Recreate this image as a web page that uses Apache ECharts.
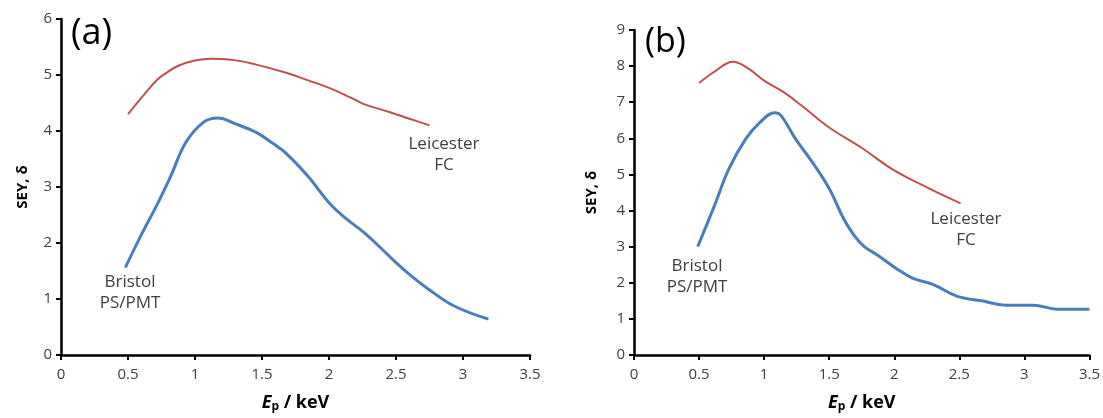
<!DOCTYPE html>
<html><head><meta charset="utf-8">
<script src="https://cdn.jsdelivr.net/npm/echarts@6/dist/echarts.min.js"></script>
<style>html,body{margin:0;padding:0;background:#fff}#c{width:1103px;height:418px}</style>
</head><body><div id="c"></div>
<script>
// Panel (a)
const aLeicesterX = [0.50,0.62,0.72,0.80,0.88,1.00,1.12,1.28,1.45,1.68,1.85,2.00,2.15,2.26,2.45,2.60,2.75];
const aLeicesterY = [4.30,4.65,4.92,5.06,5.17,5.26,5.29,5.27,5.19,5.04,4.90,4.77,4.61,4.48,4.34,4.22,4.10];
const aBristolX = [0.48,0.60,0.72,0.82,0.93,1.06,1.17,1.30,1.46,1.58,1.68,1.84,2.00,2.13,2.26,2.40,2.50,2.62,2.74,2.93,3.19];
const aBristolY = [1.56,2.15,2.70,3.20,3.79,4.15,4.23,4.13,3.97,3.78,3.60,3.20,2.72,2.43,2.19,1.88,1.65,1.40,1.18,0.88,0.64];
// Panel (b)
const bLeicesterX = [0.50,0.62,0.76,0.88,1.00,1.15,1.29,1.50,1.74,2.00,2.27,2.51];
const bLeicesterY = [7.53,7.85,8.12,7.93,7.60,7.28,6.90,6.30,5.76,5.11,4.61,4.20];
const bBristolX = [0.49,0.62,0.73,0.86,0.97,1.08,1.13,1.24,1.37,1.50,1.61,1.69,1.77,1.87,2.01,2.14,2.30,2.48,2.67,2.86,3.07,3.25,3.50];
const bBristolY = [3.00,4.15,5.16,5.99,6.45,6.71,6.63,5.99,5.34,4.61,3.78,3.32,3.00,2.77,2.41,2.13,1.95,1.63,1.50,1.38,1.38,1.27,1.27];
const xTicks = [0,0.5,1,1.5,2,2.5,3,3.5];

const zip = (xs, ys) => xs.map((x, i) => [x, ys[i]]);
const FONT = 'Open Sans';
const lblColor = '#404040';

function xAxis(gi, gap) {
  return {
    type: 'value', gridIndex: gi, min: xTicks[0], max: xTicks[xTicks.length - 1], interval: 0.5,
    name: '{e|E}{p|p}{n| / keV}', nameLocation: 'middle', nameGap: gap,
    nameTextStyle: { rich: {
      e: { fontFamily: FONT, fontSize: 18, fontWeight: 'bold', fontStyle: 'italic', color: '#000' },
      p: { fontFamily: FONT, fontSize: 12, fontWeight: 'bold', color: '#000', verticalAlign: 'bottom', padding: [9,0,0,0] },
      n: { fontFamily: FONT, fontSize: 18, fontWeight: 'bold', color: '#000' }
    }},
    axisLine: { show: true, onZero: false, lineStyle: { color: '#000', width: 2.5 } },
    axisTick: { show: true, length: 5, lineStyle: { color: '#000', width: 2 } },
    axisLabel: { fontFamily: FONT, fontSize: 15, color: lblColor, margin: 12, formatter: v => String(v) },
    splitLine: { show: false }
  };
}
function yAxis(gi, max, gap) {
  return {
    type: 'value', gridIndex: gi, min: 0, max: max, interval: 1,
    name: 'SEY, δ', nameLocation: 'middle', nameGap: gap,
    nameTextStyle: { fontFamily: FONT, fontSize: 15, fontWeight: 'bold', color: '#000' },
    axisLine: { show: true, onZero: false, lineStyle: { color: '#000', width: 2.5 } },
    axisTick: { show: true, length: 5, lineStyle: { color: '#000', width: 2 } },
    axisLabel: { fontFamily: FONT, fontSize: 15, color: lblColor, margin: 9 },
    splitLine: { show: false }
  };
}
function line(xi, data, color, w) {
  return { type: 'line', xAxisIndex: xi, yAxisIndex: xi, data: data, smooth: 0.4,
    showSymbol: false, symbol: 'none', lineStyle: { color: color, width: w } };
}
const textStyle = (t) => ({ text: t, fontFamily: FONT, fontSize: 17, fill: '#404040', align: 'center', lineHeight: 21 });

const chart = echarts.init(document.getElementById('c'));
chart.setOption({
  animation: false,
  backgroundColor: '#fff',
  grid: [
    { left: 61, right: 573, top: 19, bottom: 63 },
    { left: 634, right: 10, top: 30, bottom: 61 }
  ],
  xAxis: [xAxis(0, 37), xAxis(1, 37)],
  yAxis: [yAxis(0, 6, 31), yAxis(1, 9, 35)],
  series: [
    line(0, zip(aLeicesterX, aLeicesterY), '#C0504D', 2),
    line(0, zip(aBristolX, aBristolY), '#4A7EBB', 3),
    line(1, zip(bLeicesterX, bLeicesterY), '#C0504D', 2),
    line(1, zip(bBristolX, bBristolY), '#4A7EBB', 3)
  ],
  graphic: [
    { type: 'text', left: 71, top: 16, style: { text: '(a)', fontFamily: FONT, fontSize: 36, fill: '#000' } },
    { type: 'text', left: 645, top: 25, style: { text: '(b)', fontFamily: FONT, fontSize: 34, fill: '#000' } },
    { type: 'text', x: 444, y: 134, style: textStyle('Leicester\nFC') },
    { type: 'text', x: 130, y: 272, style: textStyle('Bristol\nPS/PMT') },
    { type: 'text', x: 966, y: 209, style: textStyle('Leicester\nFC') },
    { type: 'text', x: 697, y: 256, style: textStyle('Bristol\nPS/PMT') }
  ]
});
</script></body></html>
